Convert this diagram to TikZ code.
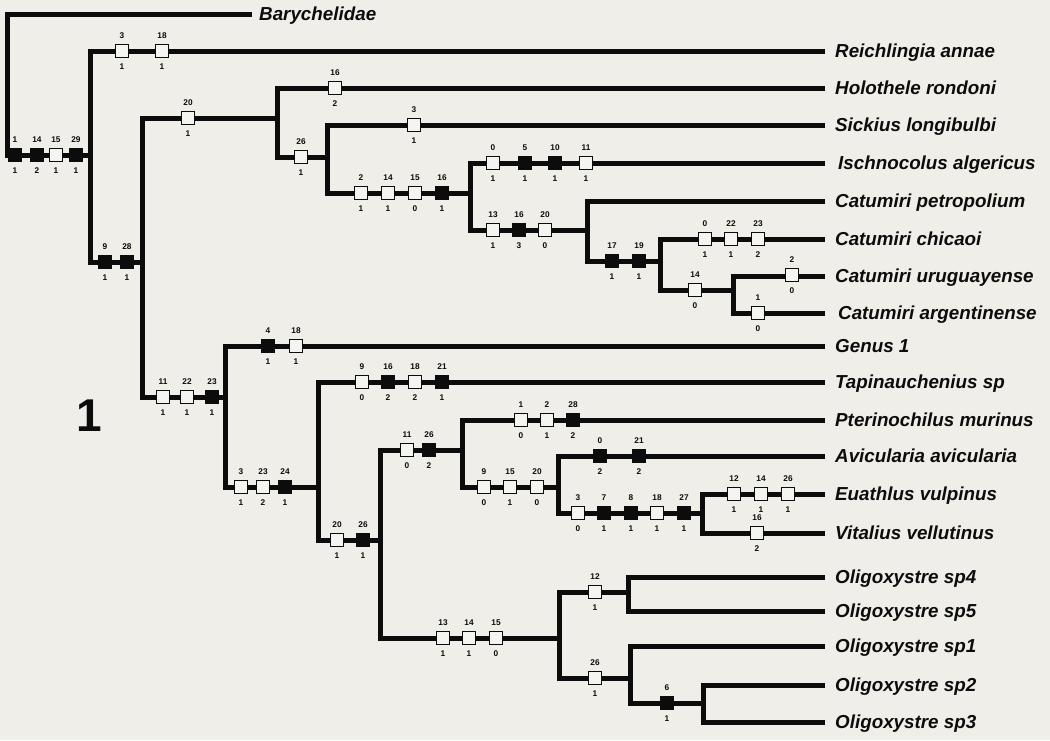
\documentclass[tikz,border=0pt]{standalone}
\usepackage{fontspec}
\newfontfamily\lsans{Liberation Sans}
\definecolor{bg}{RGB}{239,238,233}
\definecolor{ink}{RGB}{12,12,12}
\definecolor{boxw}{RGB}{244,244,241}
\tikzset{
  branch/.style={draw=ink, line width=5pt},
  chbox/.style={rectangle, draw=ink, line width=1.6pt, minimum size=13pt, inner sep=0pt},
  wbox/.style={chbox, fill=boxw},
  bbox/.style={chbox, fill=ink},
  num/.style={font=\lsans\bfseries\fontsize{8.3}{8.3}\selectfont, inner sep=0pt, text=ink},
  taxon/.style={font=\lsans\bfseries\itshape\fontsize{18.8}{20}\selectfont, anchor=west, inner sep=0pt, text height=13.5pt, text depth=0pt, text=ink},
}
\newcommand\chw[5]{\node[wbox, label={[num,label distance=5pt]above:#4}, label={[num,label distance=5pt]below:#5}] (#1) at (#2,#3) {};}
\newcommand\chb[5]{\node[bbox, label={[num,label distance=5pt]above:#4}, label={[num,label distance=5pt]below:#5}] (#1) at (#2,#3) {};}
\begin{document}
\begin{tikzpicture}[x=1pt,y=-1pt]
\fill[bg] (0,0) rectangle (1050,740);
\useasboundingbox (0,0) rectangle (1050,740);

% taxa
\node[taxon] (t1) at (259,14) {Barychelidae};
\node[taxon] (t2) at (835,51) {Reichlingia annae};
\node[taxon] (t3) at (835,88) {Holothele rondoni};
\node[taxon] (t4) at (835,125) {Sickius longibulbi};
\node[taxon] (t5) at (838,163) {Ischnocolus algericus};
\node[taxon] (t6) at (835,201) {Catumiri petropolium};
\node[taxon] (t7) at (835,239) {Catumiri chicaoi};
\node[taxon] (t8) at (835,276) {Catumiri uruguayense};
\node[taxon] (t9) at (838,313) {Catumiri argentinense};
\node[taxon] (t10) at (835,346) {Genus 1};
\node[taxon] (t11) at (835,382) {Tapinauchenius sp};
\node[taxon] (t12) at (835,420) {Pterinochilus murinus};
\node[taxon] (t13) at (835,456) {Avicularia avicularia};
\node[taxon] (t14) at (835,494) {Euathlus vulpinus};
\node[taxon] (t15) at (835,533) {Vitalius vellutinus};
\node[taxon] (t16) at (835,577) {Oligoxystre sp4};
\node[taxon] (t17) at (835,611) {Oligoxystre sp5};
\node[taxon] (t18) at (835,646) {Oligoxystre sp1};
\node[taxon] (t19) at (835,685) {Oligoxystre sp2};
\node[taxon] (t20) at (835,722) {Oligoxystre sp3};

\node[font=\lsans\bfseries\fontsize{46}{46}\selectfont, inner sep=0pt, text=ink] (fig) at (89,416) {1};

% internal nodes
\coordinate (R) at (7,155);
\coordinate (A) at (90,155);
\coordinate (B) at (142,262);
\coordinate (C) at (277,118);
\coordinate (D) at (327,157);
\coordinate (E) at (470,193);
\coordinate (F) at (587,230);
\coordinate (G) at (660,261);
\coordinate (H) at (733,290);
\coordinate (L) at (225,397);
\coordinate (M) at (318,487);
\coordinate (N) at (380,540);
\coordinate (O) at (462,450);
\coordinate (P) at (558,487);
\coordinate (Q) at (702,513);
\coordinate (S) at (559,638);
\coordinate (U) at (628,592);
\coordinate (V) at (630,678);
\coordinate (W) at (703,703);

% branches
\draw[branch] ([xshift=-7pt]t1.west) -| (R) -- (A);
\draw[branch] (A) |- ([xshift=-10pt]t2.west);
\draw[branch] (A) |- (B);
\draw[branch] (B) |- (C);
\draw[branch] (B) |- (L);
\draw[branch] (C) |- ([xshift=-10pt]t3.west);
\draw[branch] (C) |- (D);
\draw[branch] (D) |- ([xshift=-10pt]t4.west);
\draw[branch] (D) |- (E);
\draw[branch] (E) |- ([xshift=-13pt]t5.west);
\draw[branch] (E) |- (F);
\draw[branch] (F) |- ([xshift=-10pt]t6.west);
\draw[branch] (F) |- (G);
\draw[branch] (G) |- ([xshift=-10pt]t7.west);
\draw[branch] (G) |- (H);
\draw[branch] (H) |- ([xshift=-10pt]t8.west);
\draw[branch] (H) |- ([xshift=-13pt]t9.west);
\draw[branch] (L) |- ([xshift=-10pt]t10.west);
\draw[branch] (L) |- (M);
\draw[branch] (M) |- ([xshift=-10pt]t11.west);
\draw[branch] (M) |- (N);
\draw[branch] (N) |- (O);
\draw[branch] (N) |- (S);
\draw[branch] (O) |- ([xshift=-10pt]t12.west);
\draw[branch] (O) |- (P);
\draw[branch] (P) |- ([xshift=-10pt]t13.west);
\draw[branch] (P) |- (Q);
\draw[branch] (Q) |- ([xshift=-10pt]t14.west);
\draw[branch] (Q) |- ([xshift=-10pt]t15.west);
\draw[branch] (S) |- (U);
\draw[branch] (S) |- (V);
\draw[branch] (U) |- ([xshift=-10pt]t16.west);
\draw[branch] (U) |- ([xshift=-10pt]t17.west);
\draw[branch] (V) |- ([xshift=-10pt]t18.west);
\draw[branch] (V) |- (W);
\draw[branch] (W) |- ([xshift=-10pt]t19.west);
\draw[branch] (W) |- ([xshift=-10pt]t20.west);

% character boxes
\chb{c1}{15}{155}{1}{1}
\chb{c2}{37}{155}{14}{2}
\chw{c3}{56}{155}{15}{1}
\chb{c4}{76}{155}{29}{1}
\chw{c5}{122}{51}{3}{1}
\chw{c6}{162}{51}{18}{1}
\chb{c7}{105}{262}{9}{1}
\chb{c8}{127}{262}{28}{1}
\chw{c9}{188}{118}{20}{1}
\chw{c10}{335}{88}{16}{2}
\chw{c11}{301}{157}{26}{1}
\chw{c12}{414}{125}{3}{1}
\chw{c13}{361}{193}{2}{1}
\chw{c14}{388}{193}{14}{1}
\chw{c15}{415}{193}{15}{0}
\chb{c16}{442}{193}{16}{1}
\chw{c17}{493}{163}{0}{1}
\chb{c18}{525}{163}{5}{1}
\chb{c19}{555}{163}{10}{1}
\chw{c20}{586}{163}{11}{1}
\chw{c21}{493}{230}{13}{1}
\chb{c22}{519}{230}{16}{3}
\chw{c23}{545}{230}{20}{0}
\chb{c24}{612}{261}{17}{1}
\chb{c25}{639}{261}{19}{1}
\chw{c26}{705}{239}{0}{1}
\chw{c27}{731}{239}{22}{1}
\chw{c28}{758}{239}{23}{2}
\chw{c29}{695}{290}{14}{0}
\chw{c30}{792}{275}{2}{0}
\chw{c31}{758}{313}{1}{0}
\chw{c32}{163}{397}{11}{1}
\chw{c33}{187}{397}{22}{1}
\chb{c34}{212}{397}{23}{1}
\chb{c35}{268}{346}{4}{1}
\chw{c36}{296}{346}{18}{1}
\chw{c37}{241}{487}{3}{1}
\chw{c38}{263}{487}{23}{2}
\chb{c39}{285}{487}{24}{1}
\chw{c40}{362}{382}{9}{0}
\chb{c41}{388}{382}{16}{2}
\chw{c42}{415}{382}{18}{2}
\chb{c43}{442}{382}{21}{1}
\chw{c44}{337}{540}{20}{1}
\chb{c45}{363}{540}{26}{1}
\chw{c46}{407}{450}{11}{0}
\chb{c47}{429}{450}{26}{2}
\chw{c48}{521}{420}{1}{0}
\chw{c49}{547}{420}{2}{1}
\chb{c50}{573}{420}{28}{2}
\chw{c51}{484}{487}{9}{0}
\chw{c52}{510}{487}{15}{1}
\chw{c53}{537}{487}{20}{0}
\chb{c54}{600}{456}{0}{2}
\chb{c55}{639}{456}{21}{2}
\chw{c56}{578}{513}{3}{0}
\chb{c57}{604}{513}{7}{1}
\chb{c58}{631}{513}{8}{1}
\chw{c59}{657}{513}{18}{1}
\chb{c60}{684}{513}{27}{1}
\chw{c61}{734}{494}{12}{1}
\chw{c62}{761}{494}{14}{1}
\chw{c63}{788}{494}{26}{1}
\chw{c64}{757}{533}{16}{2}
\chw{c65}{443}{638}{13}{1}
\chw{c66}{469}{638}{14}{1}
\chw{c67}{496}{638}{15}{0}
\chw{c68}{595}{592}{12}{1}
\chw{c69}{595}{678}{26}{1}
\chb{c70}{667}{703}{6}{1}
\end{tikzpicture}
\end{document}
